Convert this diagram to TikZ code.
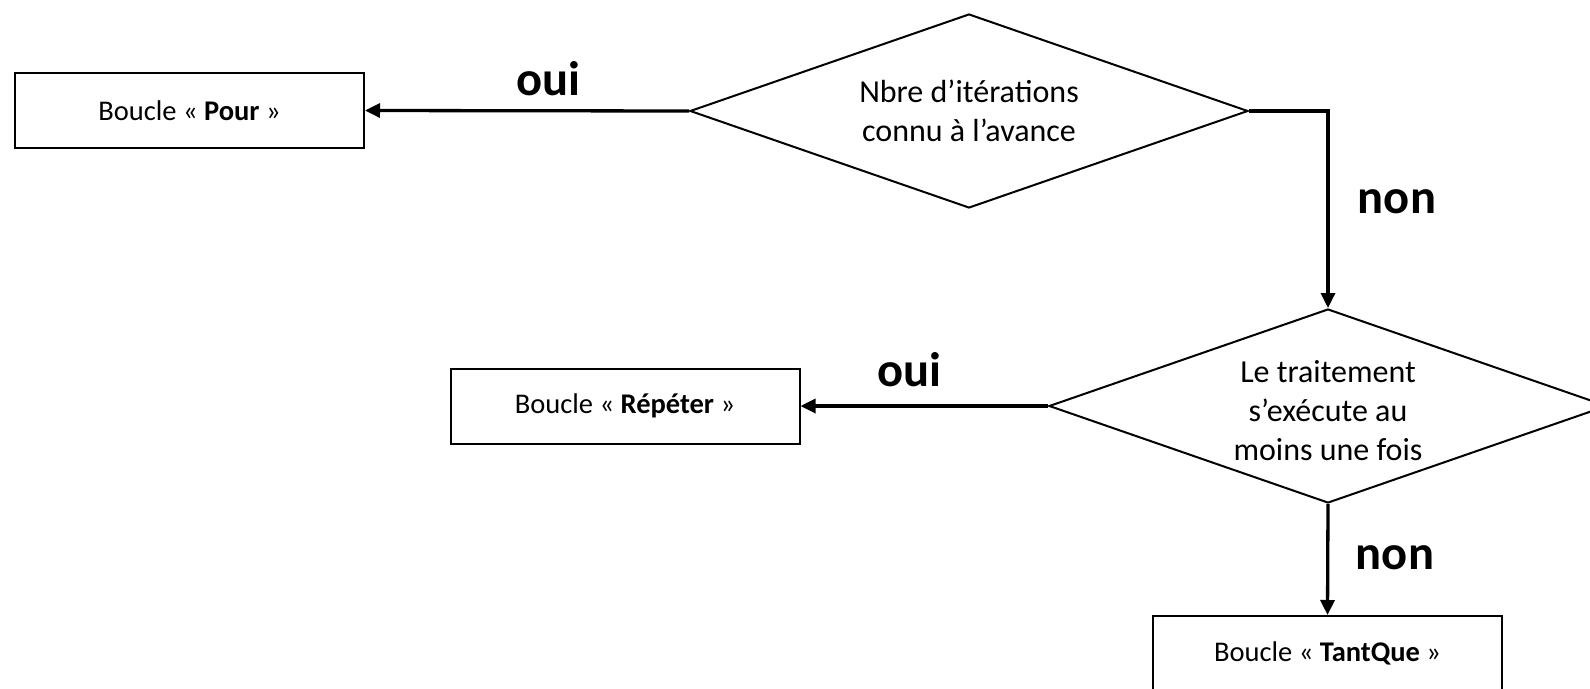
\documentclass[tikz,border=0pt]{standalone}
\usepackage{fontspec}
\setmainfont{Carlito}
\usetikzlibrary{shapes.geometric,arrows.meta}

\tikzset{
  loopbox/.style={draw, line width=2pt, rectangle, minimum width=349pt,
    minimum height=75pt, inner sep=0pt, font=\fontsize{28.5}{34}\selectfont},
  test/.style={draw, line width=2pt, diamond, aspect=2.88, minimum width=558pt,
    minimum height=194pt, inner sep=0pt, align=center,
    font=\fontsize{32}{39}\selectfont},
  flow/.style={line width=3.3pt, -{Triangle[length=15pt,width=14pt]}},
  answer/.style={font=\fontsize{48.5}{52}\selectfont\bfseries, inner sep=0pt}
}

\begin{document}
\begin{tikzpicture}[x=1pt, y=-1pt]
  \useasboundingbox (0,0) rectangle (1590,688);
  \clip (0,0) rectangle (1590,688);

  % decisions
  \node[test] (d1) at (969,111) {Nbre d’itérations\\connu à l’avance};
  \node[test] (d2) at (1328,406) {\rule{0pt}{32pt}Le traitement\\s’exécute au\\moins une fois};

  % loop kinds
  \node[loopbox] (pour) at (189.5,110.5) {Boucle « \textbf{Pour} »};
  \node[loopbox] (repeter) at (625,406) {Boucle « \textbf{Répéter} »};
  \node[loopbox] (tantque) at (1327.5,653.5) {Boucle « \textbf{TantQue} »};

  % branches
  \draw[flow] (d1.west) -- (pour.east);
  \draw[flow] (d1.east) -| (d2.north);
  \draw[flow] (d2.west) -- (repeter.east);
  \draw[flow] (d2.south) -- (tantque.north);

  % branch labels
  \node[answer] (oui1) at (548,79) {oui};
  \node[answer] (non1) at (1397,202) {non};
  \node[answer] (oui2) at (909,370) {oui};
  \node[answer] (non2) at (1395,558) {non};
\end{tikzpicture}
\end{document}
